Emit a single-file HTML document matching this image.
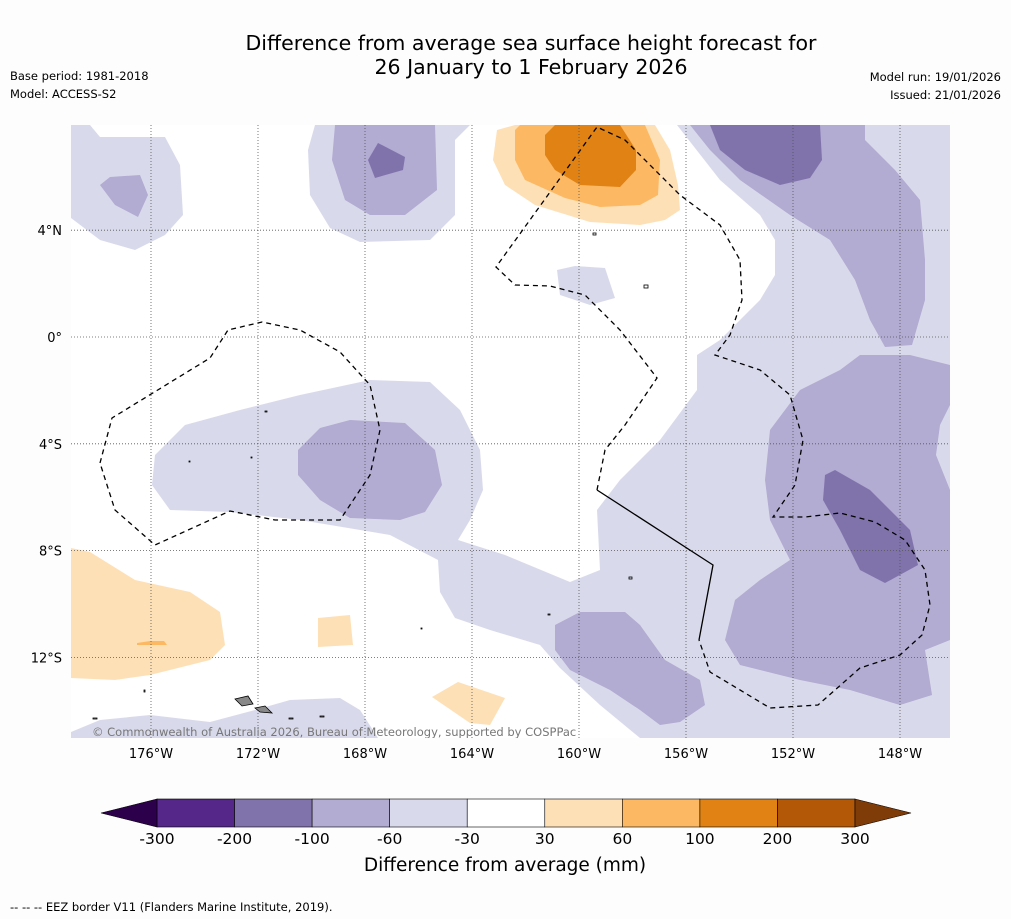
<!DOCTYPE html>
<html><head><meta charset="utf-8">
<style>
body{margin:0;background:#fdfdfd;width:1011px;height:919px;overflow:hidden;font-family:"DejaVu Sans",sans-serif;}
svg{position:absolute;left:0;top:0}
</style></head>
<body>
<svg id="s" width="1011" height="919" font-family="DejaVu Sans, sans-serif">
<text x="531" y="50" font-size="20.5" text-anchor="middle">Difference from average sea surface height forecast for</text>
<text x="531" y="74" font-size="20.5" text-anchor="middle">26 January to 1 February 2026</text>
<text x="10" y="80" font-size="11.5">Base period: 1981-2018</text>
<text x="10" y="98" font-size="11.5">Model: ACCESS-S2</text>
<text x="1001" y="81" font-size="11.5" text-anchor="end">Model run: 19/01/2026</text>
<text x="1001" y="99" font-size="11.5" text-anchor="end">Issued: 21/01/2026</text>
<defs><clipPath id="mc"><rect x="71" y="125" width="879" height="613"/></clipPath></defs>
<g clip-path="url(#mc)">
<rect x="71" y="125" width="879" height="613" fill="#ffffff"/>
<g fill="#d8daeb">
<path d="M71,125 L90,125 100,137 165,137 180,165 183,215 165,235 135,250 100,240 71,218Z"/>
<path d="M315,125 L470,125 455,140 455,215 430,240 360,242 330,228 310,195 308,150Z"/>
<path d="M677,125 L950,125 950,738 640,738 600,705 560,668 540,645 490,630 455,618 440,592 438,560 390,535 300,520 230,512 170,510 152,485 155,455 185,425 240,410 300,395 370,380 430,382 460,410 480,450 483,490 470,520 458,540 505,555 570,582 600,570 597,510 620,480 660,440 697,390 697,355 720,340 760,300 775,275 775,240 760,215 720,180Z"/>
<path d="M557,270 L575,266 605,268 615,298 590,305 560,295Z"/>
<path d="M71,738 L71,732 100,720 150,715 210,722 255,710 290,700 340,698 360,710 378,738Z"/>
</g>
<g fill="#b2abd2">
<path d="M100,185 L110,177 140,175 148,195 138,217 115,205Z"/>
<path d="M335,125 L435,125 437,190 405,215 370,215 345,200 332,160Z"/>
<path d="M298,450 L320,428 350,420 405,423 435,450 442,485 425,512 400,520 350,518 320,500 298,475Z"/>
<path d="M690,125 L865,125 865,140 895,170 920,200 925,260 925,300 912,345 885,347 870,320 855,280 830,240 790,215 740,180 710,150Z"/>
<path d="M950,365 L910,355 860,355 840,370 800,390 770,430 765,480 770,520 790,560 760,580 735,600 725,640 740,665 800,680 850,690 900,705 932,695 925,650 950,640Z"/>
<path d="M555,625 L580,612 625,612 640,625 665,660 700,680 705,705 680,722 660,725 640,710 610,690 570,670 555,650Z"/>
</g>
<path d="M950,405 L940,425 936,455 950,490Z" fill="#d8daeb"/>
<g fill="#8073ac">
<path d="M368,160 L378,143 405,157 403,170 375,178Z"/>
<path d="M710,125 L820,125 822,160 810,178 780,185 745,170 720,150Z"/>
<path d="M825,475 L835,470 870,490 910,530 918,565 885,583 860,570 840,530 823,500Z"/>
</g>
<g>
<path d="M497,130 L515,125 655,125 670,150 678,185 680,210 665,220 640,225 590,222 535,205 505,185 493,160Z" fill="#fee0b6"/>
<path d="M515,130 L520,125 645,125 660,160 658,195 640,205 600,207 565,198 525,180 515,160Z" fill="#fdb863"/>
<path d="M545,135 L555,125 620,125 636,150 636,170 620,187 580,185 555,170 545,155Z" fill="#e08214"/>
<path d="M71,548 L90,552 135,580 190,592 220,612 225,645 210,660 150,675 115,680 71,678Z" fill="#fee0b6"/>
<path d="M137,643 L150,641 164,641 167,645 137,645Z" fill="#fdb863"/>
<path d="M318,618 L350,615 353,645 318,647Z" fill="#fee0b6"/>
<path d="M432,697 L458,682 505,698 490,725 470,723Z" fill="#fee0b6"/>
</g>
<g stroke="#555" stroke-width="0.8" stroke-dasharray="1,2" id="grid"></g>
<g fill="none" stroke="#000" stroke-width="1.3">
<path stroke-dasharray="5,4" d="M100,463 L112,418 210,358 228,330 262,322 300,330 340,352 370,385 380,430 370,475 340,520 275,520 230,511 155,545 115,510Z"/>
<path stroke-dasharray="5,4" d="M597,490 L605,450 625,425 657,378 620,330 585,295 550,286 515,285 496,267 597,127 625,140 680,195 720,225 740,260 742,300 730,335 715,355 760,370 790,395 803,440 795,485 773,517 805,517 840,513 875,522 905,540 925,570 930,605 922,635 900,655 860,668 818,705 770,708 710,672 699,640"/>
<path d="M597,490 L713,565 699,640"/>
</g>
<g fill="none" stroke="#000" stroke-width="0.8">
<path d="M235,699 L248,696 253,704 242,706Z" fill="#888"/><path d="M255,708 L265,706 272,713 260,712Z" fill="#888"/>
<rect x="265" y="411" width="2" height="1"/><rect x="189" y="461" width="1" height="1"/><rect x="251" y="457" width="1" height="1"/>
<rect x="593" y="233" width="3" height="2"/><rect x="644" y="285" width="4" height="3"/><rect x="629" y="577" width="3" height="2"/>
<rect x="144" y="690" width="1" height="2"/><rect x="289" y="718" width="4" height="1"/><rect x="320" y="716" width="4" height="1"/>
<rect x="93" y="718" width="4" height="1"/><rect x="548" y="614" width="2" height="1"/><rect x="421" y="628" width="1" height="1"/>
</g>
<text x="92" y="736" font-size="11.5" fill="#777">© Commonwealth of Australia 2026, Bureau of Meteorology, supported by COSPPac</text>
</g>
<g id="axes" font-size="13"></g>
<g id="cbar"></g>
<text x="505" y="871" font-size="18.5" text-anchor="middle">Difference from average (mm)</text>
<text x="10" y="911" font-size="11.5">--  --  -- EEZ border V11 (Flanders Marine Institute, 2019).</text>
</svg>
<script>
const lonTicks=[-176,-172,-168,-164,-160,-156,-152,-148];
const latTicks=[4,0,-4,-8,-12];
const levels=[-300,-200,-100,-60,-30,30,60,100,200,300];
const levelColors=["#542788","#8073ac","#b2abd2","#d8daeb","#ffffff","#fee0b6","#fdb863","#e08214","#b35806"];
const extColors=["#2d004b","#7f3b08"];
const NS="http://www.w3.org/2000/svg";
const xLon=l=>151+(l+176)*26.75;
const yLat=l=>337-l*26.7;
function mk(t,a,p){const e=document.createElementNS(NS,t);for(const k in a)e.setAttribute(k,a[k]);p.appendChild(e);return e;}
const grid=document.getElementById('grid'),axes=document.getElementById('axes');
lonTicks.forEach(l=>{
 const g=mk('line',{x1:xLon(l),x2:xLon(l),y1:125,y2:738},grid);
 
 
 const t=mk('text',{x:xLon(l),y:758,'text-anchor':'middle'},axes);
 t.textContent=Math.abs(l)+'°W';
 
 
});
latTicks.forEach(l=>{
 const g=mk('line',{x1:71,x2:950,y1:yLat(l),y2:yLat(l)},grid);
 
 
 const t=mk('text',{x:62,y:yLat(l)+5,'text-anchor':'end'},axes);
 t.textContent=l===0?'0°':Math.abs(l)+'°'+(l>0?'N':'S');
 
 
});
const cb=document.getElementById('cbar');
const cx0=157,cx1=855,cy=799,ch=28,n=levelColors.length,sw=(cx1-cx0)/n;
levelColors.forEach((c,i)=>{
 const r=mk('rect',{x:cx0+i*sw,y:cy,width:sw,height:ch,fill:c,stroke:'#000','stroke-width':0.6},cb);
 
 
});
const tl=mk('polygon',{points:`${cx0},${cy} ${cx0-56},${cy+ch/2} ${cx0},${cy+ch}`,fill:extColors[0],stroke:'#000','stroke-width':0.6},cb);


const tr=mk('polygon',{points:`${cx1},${cy} ${cx1+56},${cy+ch/2} ${cx1},${cy+ch}`,fill:extColors[1],stroke:'#000','stroke-width':0.6},cb);


levels.forEach((v,i)=>{
 const t=mk('text',{x:cx0+i*sw,y:844,'text-anchor':'middle','font-size':15.5},cb);
 t.textContent=v;
 
 
});
</script>
</body></html>
